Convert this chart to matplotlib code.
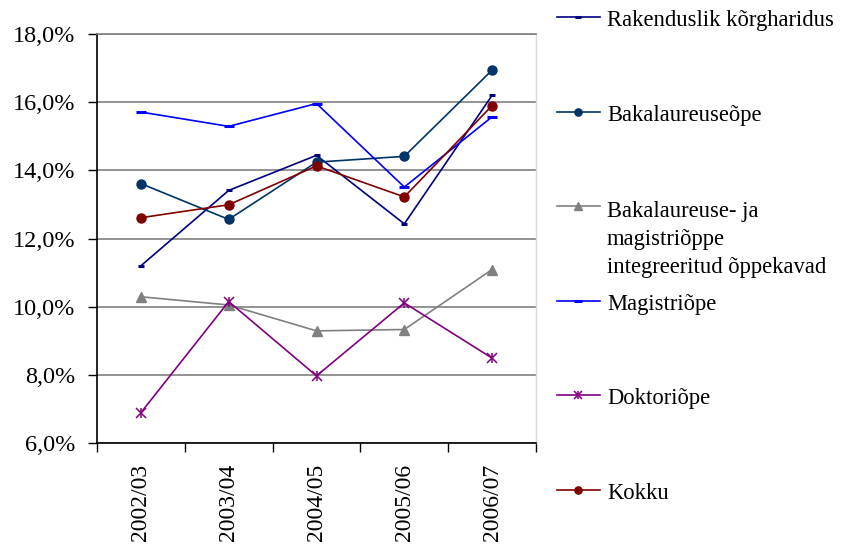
import matplotlib
matplotlib.use("Agg")
import matplotlib.pyplot as plt
from matplotlib.lines import Line2D

plt.rcParams['font.family'] = ['Liberation Serif', 'DejaVu Serif']

years = ['2002/03', '2003/04', '2004/05', '2005/06', '2006/07']

rakenduslik = [11.2, 13.41, 14.44, 12.43, 16.2]
bakalaureus = [13.61, 12.56, 14.24, 14.41, 16.94]
integreeritud = [10.29, 10.05, 9.29, 9.33, 11.09]
magistri = [15.71, 15.29, 15.96, 13.51, 15.57]
doktori = [6.89, 10.15, 7.97, 10.11, 8.49]
kokku = [12.61, 12.99, 14.13, 13.22, 15.9]

labels = ['Rakenduslik kõrgharidus', 'Bakalaureuseõpe',
          'Bakalaureuse- ja\nmagistriõppe\nintegreeritud õppekavad',
          'Magistriõpe', 'Doktoriõpe', 'Kokku']

W, H = 841, 549
fig = plt.figure(figsize=(W / 100, H / 100), dpi=100)
ax = fig.add_axes([97 / W, 1 - 443 / H, (536 - 97) / W, (443 - 34) / H])

x = list(range(len(years)))
lw = 1.2

# series: (values, color, marker, markersize, mew)
series = [
    (rakenduslik, '#000080', '_', 5, 2.2),
    (bakalaureus, '#003366', 'o', 6.5, 1),
    (integreeritud, '#808080', '^', 7, 1),
    (magistri, '#0000FF', '_', 7.5, 2.2),
    (doktori, '#800080', 'x', 6.5, 1.1),
    (kokku, '#800000', 'o', 6.5, 1),
]

for vals, col, mk, ms, mew in series:
    ax.plot(x, vals, color=col, lw=lw, marker=mk, markersize=ms,
            markeredgewidth=mew, markerfacecolor=col, markeredgecolor=col)
    if mk == 'x':
        ax.plot(x, vals, linestyle='none', marker='|', markersize=ms + 1,
                markeredgewidth=mew, color=col)

ax.set_xlim(-0.5, len(years) - 0.5)
ax.set_ylim(6, 18)
yt = [6, 8, 10, 12, 14, 16, 18]
ax.set_yticks(yt)
ax.set_yticklabels([('%.1f%%' % v).replace('.', ',') for v in yt], fontsize=17.5)
ax.yaxis.grid(True, color='#808080', lw=1.2)
ax.set_axisbelow(True)

ax.set_xticks([i - 0.5 for i in range(len(years) + 1)])
ax.set_xticklabels([])
ax.set_xticks(x, minor=True)
ax.set_xticklabels(years, minor=True, rotation=90, fontsize=17)
ax.tick_params(axis='x', which='minor', length=0, pad=15)
ax.tick_params(axis='both', which='major', direction='out', length=6.5,
               width=1, color='black')
ax.tick_params(axis='y', pad=9)

for s in ['left', 'bottom']:
    ax.spines[s].set_color('black')
    ax.spines[s].set_linewidth(1.2)
ax.spines['top'].set_color('#808080')
ax.spines['top'].set_linewidth(1.2)
ax.spines['right'].set_color('#d9d9d9')
ax.spines['right'].set_linewidth(1)

# legend at the right, evenly spaced slots like the original
y0, step = 17, 94.6
for i, ((vals, col, mk, ms, mew), lab) in enumerate(zip(series, labels)):
    ypx = y0 + i * step
    yp = 1 - ypx / H
    fig.add_artist(Line2D([557 / W, 600 / W], [yp, yp], color=col, lw=lw,
                          transform=fig.transFigure))
    lms = ms * 0.8
    fig.add_artist(Line2D([578 / W], [yp], color=col, marker=mk,
                          markersize=lms, markeredgewidth=mew,
                          markerfacecolor=col, markeredgecolor=col,
                          transform=fig.transFigure))
    if mk == 'x':
        fig.add_artist(Line2D([578 / W], [yp], color=col, marker='|',
                              markersize=lms + 1, markeredgewidth=mew,
                              transform=fig.transFigure))
    lines = lab.split('\n')
    off = 11 if len(lines) > 1 else 9
    for k, line in enumerate(lines):
        fig.text(607 / W, 1 - (ypx + off + k * 28) / H, line, fontsize=16.3,
                 va='baseline', ha='left')

fig.savefig('out.png', dpi=100)
